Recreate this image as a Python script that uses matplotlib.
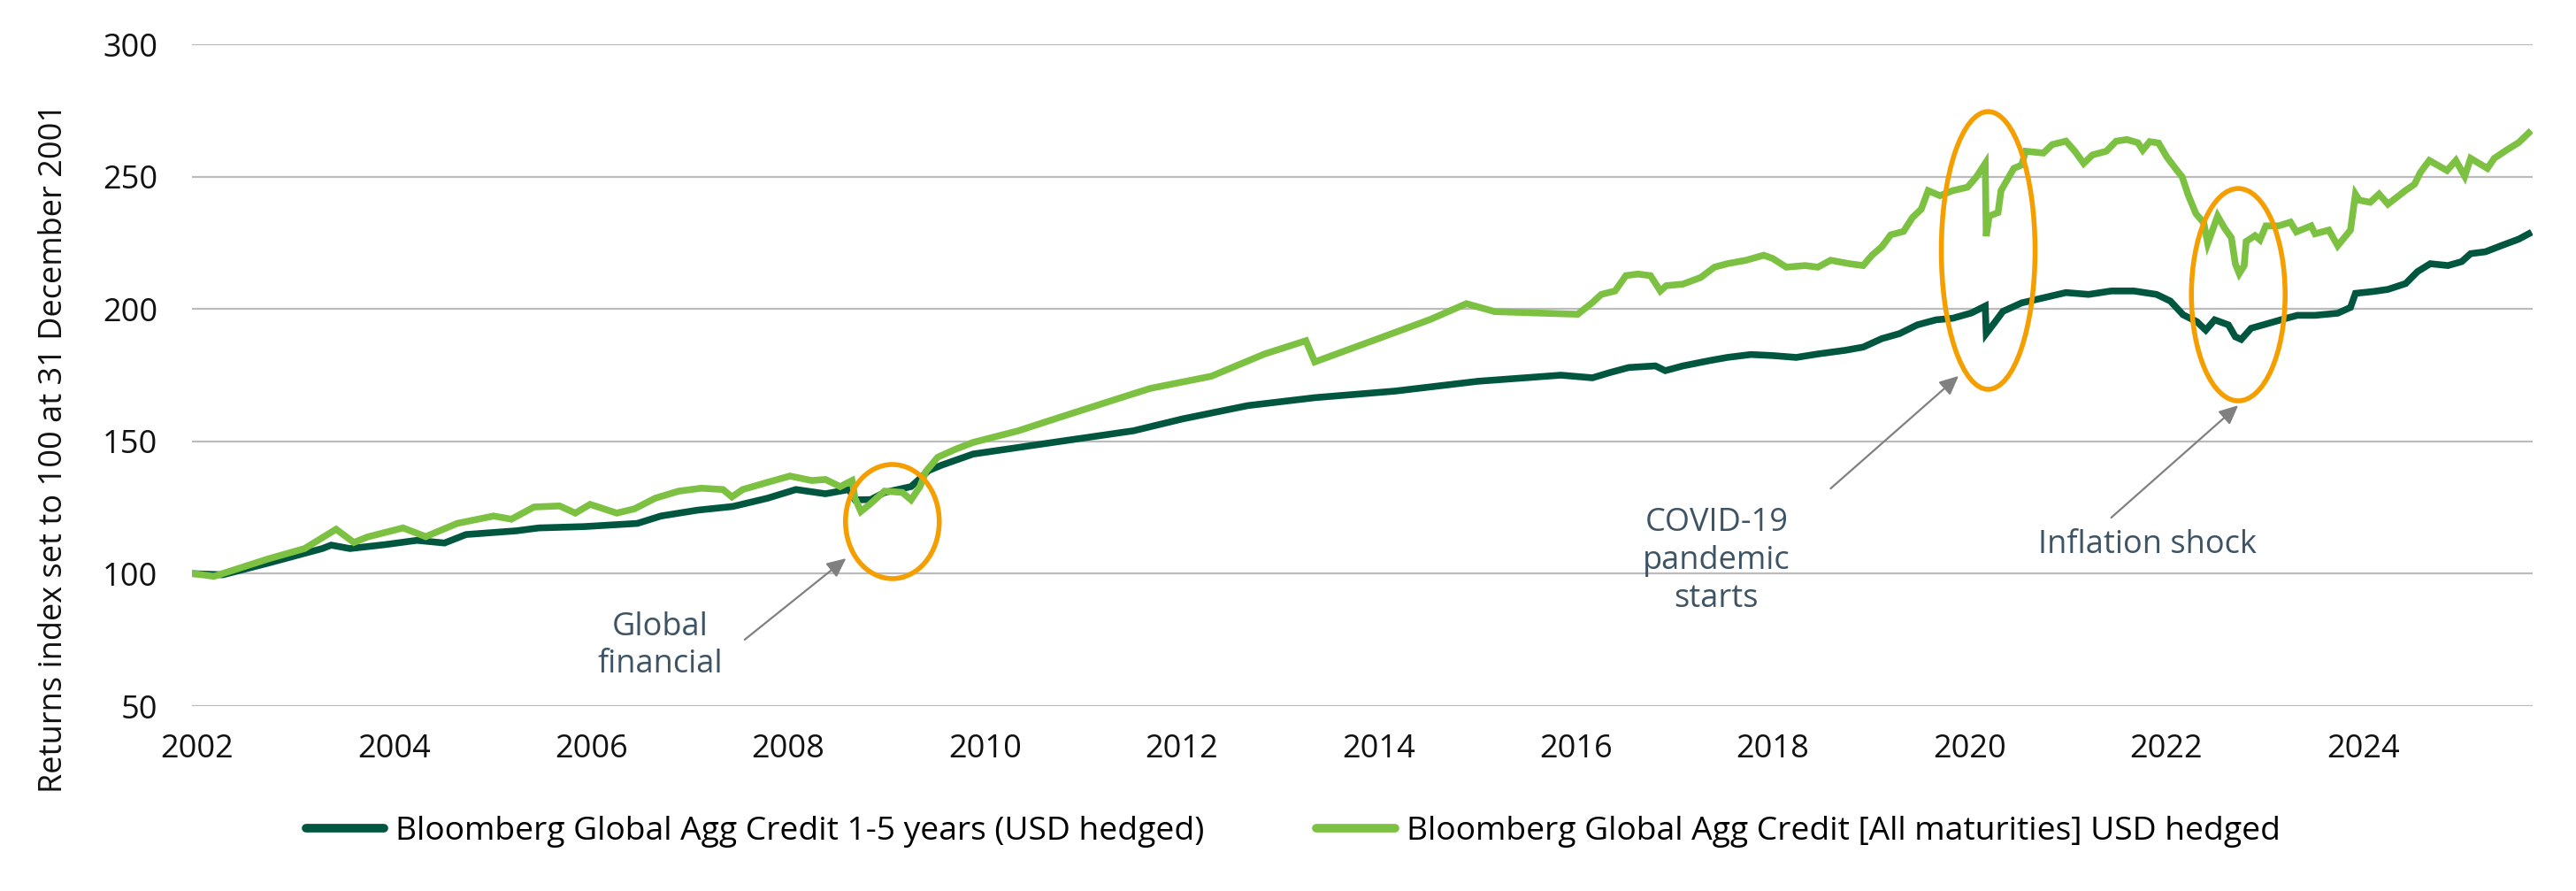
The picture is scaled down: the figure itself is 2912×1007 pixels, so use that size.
import matplotlib
matplotlib.use("Agg")
import matplotlib.pyplot as plt
from matplotlib.patches import Ellipse

plt.rcParams['font.family'] = ['Open Sans', 'DejaVu Sans']

# ---- data (fractional years, index values) ----
short_years = [2001.97, 2002.26, 2002.72, 2003.27, 2003.36, 2003.55, 2003.91, 2004.23, 2004.51, 2004.73,
               2005.24, 2005.47, 2005.93, 2006.47, 2006.71, 2007.08, 2007.44, 2007.79, 2008.08, 2008.38,
               2008.62, 2008.68, 2008.84, 2008.98, 2009.25, 2009.43, 2009.56, 2009.88,
               2010.84, 2011.51, 2012.01, 2012.67, 2013.35, 2014.17, 2015.01, 2015.85,
               2016.17, 2016.35, 2016.54, 2016.81, 2016.91, 2017.09, 2017.36, 2017.54, 2017.78, 2018.00,
               2018.24, 2018.46, 2018.74, 2018.92, 2019.11, 2019.29, 2019.47, 2019.66, 2019.83, 2020.02,
               2020.16, 2020.17, 2020.25, 2020.34, 2020.53, 2020.75, 2020.98, 2021.21, 2021.44, 2021.67,
               2021.90, 2022.04, 2022.17, 2022.31, 2022.40, 2022.49, 2022.63, 2022.70, 2022.76, 2022.86,
               2023.04, 2023.18, 2023.33, 2023.51, 2023.74, 2023.87, 2023.92, 2024.10, 2024.25, 2024.43,
               2024.55, 2024.68, 2024.86, 2025.00, 2025.09, 2025.24, 2025.40, 2025.58, 2025.68]
short_values = [100.0, 99.6, 104.0, 109.5, 110.8, 109.5, 111.0, 112.6, 111.6, 114.8,
                116.2, 117.3, 117.8, 119.0, 121.8, 124.0, 125.4, 128.5, 131.8, 130.2,
                131.8, 127.9, 128.0, 130.7, 132.9, 139.0, 141.0, 145.2,
                150.4, 154.0, 158.5, 163.5, 166.5, 169.0, 172.7, 175.0,
                174.0, 176.0, 177.9, 178.5, 176.7, 178.5, 180.5, 181.7, 182.8, 182.4,
                181.7, 183.0, 184.4, 185.6, 188.8, 190.7, 194.0, 195.9, 196.5, 198.5,
                201.1, 190.7, 194.6, 199.1, 202.3, 204.2, 206.2, 205.5, 206.8, 206.8,
                205.5, 203.0, 197.8, 195.2, 192.0, 195.9, 194.0, 189.5, 188.5, 192.7,
                194.6, 196.1, 197.6, 197.6, 198.4, 200.6, 205.9, 206.6, 207.4, 209.6,
                214.1, 217.1, 216.4, 217.9, 220.9, 221.6, 223.9, 226.4, 228.4]

all_years = [2001.97, 2002.17, 2002.72, 2003.09, 2003.31, 2003.41, 2003.59, 2003.73, 2004.09, 2004.32,
             2004.64, 2005.01, 2005.19, 2005.42, 2005.68, 2005.84, 2005.99, 2006.26, 2006.44, 2006.65,
             2006.89, 2007.12, 2007.34, 2007.43, 2007.54, 2007.79, 2008.02, 2008.24, 2008.38, 2008.53,
             2008.65, 2008.68, 2008.74, 2008.83, 2008.98, 2009.16, 2009.25, 2009.34, 2009.40, 2009.52,
             2009.70, 2009.88, 2010.34, 2010.67, 2011.34, 2011.68, 2012.30, 2012.84, 2013.26, 2013.35,
             2014.01, 2014.52, 2014.89, 2015.18, 2016.02,
             2016.17, 2016.26, 2016.40, 2016.51, 2016.63, 2016.76, 2016.86, 2016.92, 2017.09, 2017.27,
             2017.41, 2017.54, 2017.73, 2017.91, 2018.00, 2018.14, 2018.33, 2018.46, 2018.59, 2018.78,
             2018.92, 2019.01, 2019.11, 2019.20, 2019.33, 2019.42, 2019.51, 2019.58, 2019.70, 2019.83,
             2019.98, 2020.07, 2020.16, 2020.17, 2020.20, 2020.29, 2020.32, 2020.38, 2020.45, 2020.53,
             2020.57, 2020.75, 2020.84, 2020.98, 2021.07, 2021.16, 2021.25, 2021.39, 2021.49, 2021.60,
             2021.71, 2021.76, 2021.83, 2021.92, 2022.01, 2022.10, 2022.16, 2022.22, 2022.30, 2022.38,
             2022.42, 2022.52, 2022.59, 2022.66, 2022.70, 2022.74, 2022.79, 2022.81, 2022.90, 2022.95,
             2023.01, 2023.14, 2023.26, 2023.32, 2023.47, 2023.51, 2023.65, 2023.74, 2023.87, 2023.92,
             2023.96, 2024.07, 2024.16, 2024.25, 2024.43, 2024.52, 2024.58, 2024.67, 2024.85, 2024.94,
             2025.03, 2025.09, 2025.26, 2025.33, 2025.45, 2025.58, 2025.68]
all_values = [100.0, 99.0, 105.6, 109.5, 114.5, 116.8, 111.8, 113.9, 117.3, 114.0,
              119.0, 121.8, 120.6, 125.2, 125.6, 122.9, 126.2, 122.9, 124.5, 128.5,
              131.2, 132.3, 131.8, 129.0, 131.8, 134.5, 136.9, 135.2, 135.6, 132.9,
              135.2, 128.5, 123.5, 126.2, 131.2, 130.7, 127.9, 132.9, 138.6, 144.0,
              147.0, 149.6, 154.0, 158.0, 166.0, 170.0, 174.6, 183.0, 188.0, 180.0,
              189.0, 196.0, 202.0, 199.0, 198.0,
              202.4, 205.5, 206.8, 212.6, 213.2, 212.6, 206.8, 208.8, 209.4, 211.9,
              215.8, 217.1, 218.4, 220.3, 219.1, 215.8, 216.4, 215.8, 218.4, 217.1,
              216.4, 220.3, 223.5, 228.0, 229.3, 234.5, 237.7, 244.7, 242.8, 244.7,
              246.0, 249.9, 255.0, 227.5, 235.1, 236.4, 244.7, 248.6, 253.1, 254.4,
              259.6, 258.9, 262.1, 263.4, 259.6, 255.0, 258.2, 259.6, 263.4, 264.0,
              262.8, 260.0, 263.2, 262.7, 257.1, 252.7, 249.9, 243.2, 236.0, 232.5,
              224.8, 235.1, 230.6, 226.9, 217.1, 213.4, 216.4, 225.5, 227.7, 226.1,
              231.4, 231.4, 232.8, 229.1, 231.4, 228.4, 229.8, 223.9, 229.8, 243.4,
              241.1, 240.3, 243.4, 239.6, 244.8, 247.1, 251.6, 256.1, 252.3, 256.1,
              250.1, 256.9, 253.1, 256.9, 259.9, 262.9, 266.5]

series_labels = ["Bloomberg Global Agg Credit 1-5 years (USD hedged)",
                 "Bloomberg Global Agg Credit [All maturities] USD hedged"]
tick_years = list(range(2002, 2025, 2))
y_ticks = [50, 100, 150, 200, 250, 300]
y_label = "Returns index set to 100 at 31 December 2001"

# annotations: (text, text position, arrow start, arrow tip)
ann_texts = ["Global\nfinancial", "COVID-19\npandemic\nstarts", "Inflation shock"]
ann_text_xy = [(2006.70, 72.7), (2017.43, 104.8), (2021.81, 110.8)]
ann_arrow_from = [(2007.56, 75.1), (2018.59, 132.2), (2021.44, 121.2)]
ann_arrow_to = [(2008.59, 105.8), (2019.89, 174.7), (2022.73, 163.6)]
# highlight ellipses: centre x, centre y, width (years), height (index pts)
ell_cx = [2009.06, 2020.19, 2022.73]
ell_cy = [119.7, 222.1, 205.4]
ell_w = [0.952, 0.952, 0.952]
ell_h = [43.1, 104.9, 80.2]

DARK = '#00563F'
LIGHT = '#7DC143'
ORANGE = '#F59E00'
TXT = '#3E5464'

fig = plt.figure(figsize=(29.12, 10.07), dpi=100)
ax = fig.add_axes([217/2912, 1-798/1007, (2863-217)/2912, (798-50)/1007])

ax.plot(short_years, short_values, color=DARK, lw=5.5, solid_joinstyle='miter', zorder=3,
        label=series_labels[0])
ax.plot(all_years, all_values, color=LIGHT, lw=5.5, solid_joinstyle='miter', zorder=3,
        label=series_labels[1])

ax.set_xlim(2001.946, 2025.72)
ax.set_ylim(50, 300)
ax.set_yticks(y_ticks)
ax.set_xticks(tick_years)
ax.set_xticklabels([str(y) for y in tick_years])
ax.grid(axis='y', color='#BBBBBB', lw=1.6, zorder=0)
ax.set_axisbelow(True)
for s in ax.spines.values():
    s.set_visible(False)
ax.tick_params(axis='both', length=0, labelsize=26, colors='#111111')
ax.tick_params(axis='y', pad=28)
ax.tick_params(axis='x', pad=22)
fig.text(61/2912, 1-506/1007, y_label, rotation=90, ha='center', va='center',
         fontsize=26, color='#111111')

for cx, cy, w, h in zip(ell_cx, ell_cy, ell_w, ell_h):
    ax.add_patch(Ellipse((cx, cy), w, h, fill=False, edgecolor=ORANGE, lw=4, zorder=5))

for t, txy, a0, a1 in zip(ann_texts, ann_text_xy, ann_arrow_from, ann_arrow_to):
    ax.text(txy[0], txy[1], t, ha='center', va='center', fontsize=26, color=TXT,
            linespacing=1.25, zorder=6)
    ax.annotate('', xy=a1, xytext=a0,
                arrowprops=dict(arrowstyle='-|>,head_length=1.3,head_width=0.6',
                                color='#808080', lw=1.6, shrinkA=0, shrinkB=0), zorder=6)

leg = fig.legend(loc='center', bbox_to_anchor=(0.502, 1-940/1007), ncol=2, frameon=False,
                 fontsize=26.8, handlelength=2.37, handletextpad=0.35, columnspacing=3.4)
for lh in leg.get_lines():
    lh.set_linewidth(7)
    lh.set_solid_capstyle('round')

fig.savefig('out.png', dpi=100)
